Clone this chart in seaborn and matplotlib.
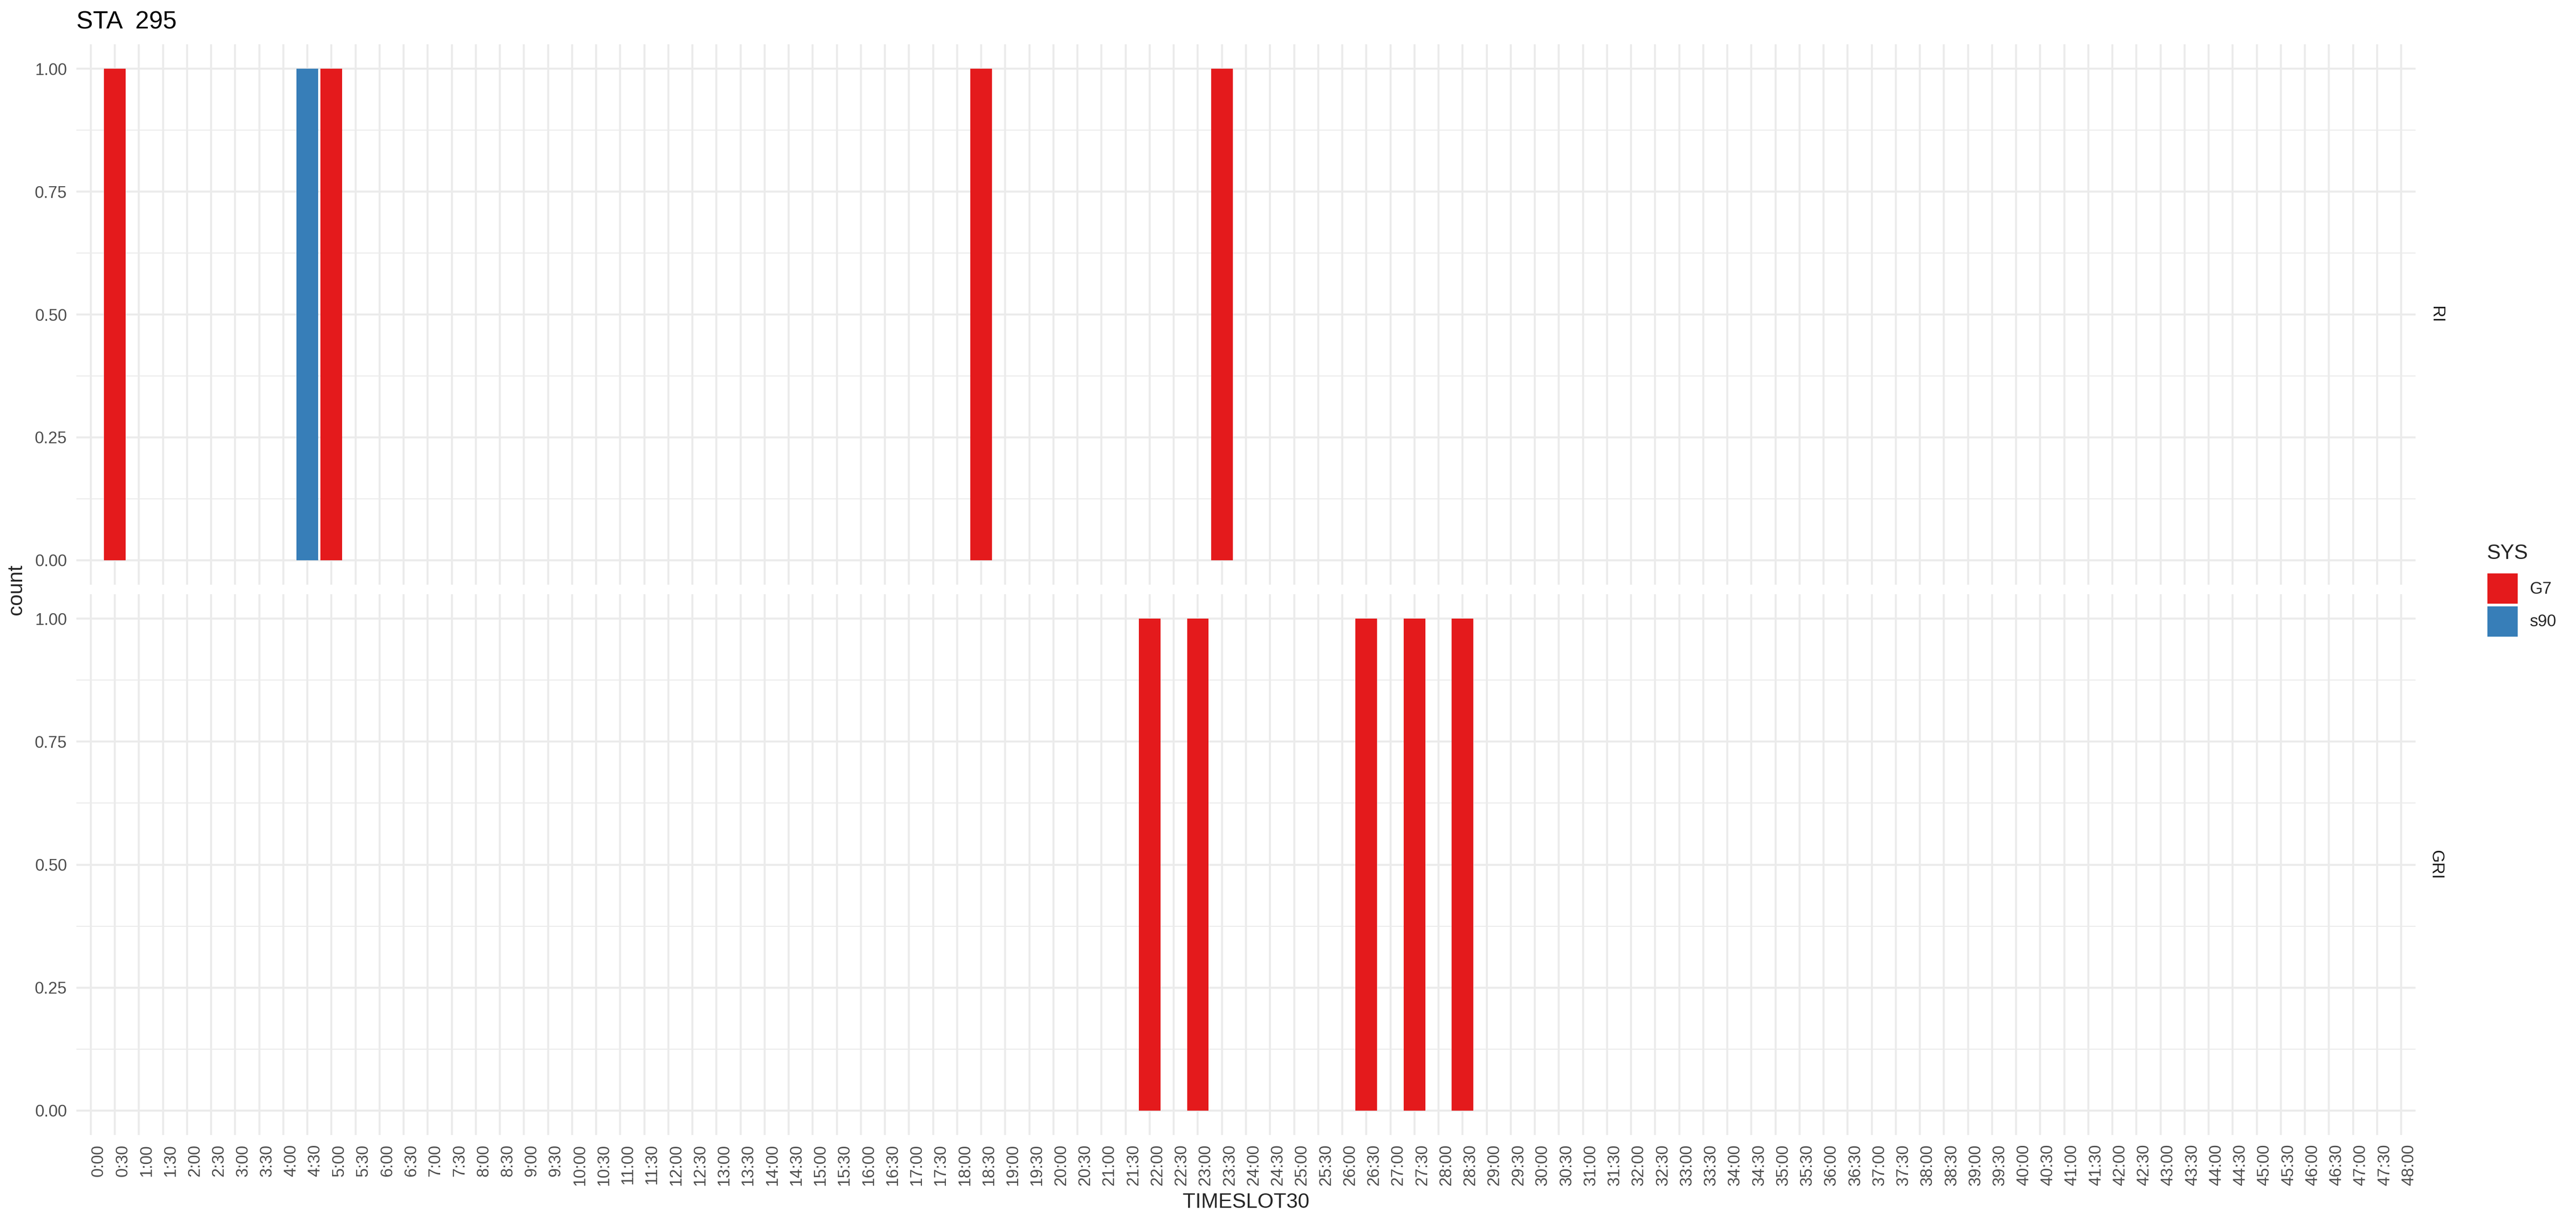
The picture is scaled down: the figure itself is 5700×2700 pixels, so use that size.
import pandas as pd
import matplotlib
matplotlib.use("Agg")
import matplotlib.pyplot as plt
import seaborn as sns

# half-hour slots shown on the x axis
slots = [f"{i // 2}:{'30' if i % 2 else '00'}" for i in range(97)]

# one row per record
ri_slot = ["0:30", "4:30", "5:00", "18:30", "23:30"]
ri_sys = ["G7", "s90", "G7", "G7", "G7"]
gri_slot = ["22:00", "23:00", "26:30", "27:30", "28:30"]
gri_sys = ["G7", "G7", "G7", "G7", "G7"]

facets = ["RI", "GRI"]
sys_order = ["G7", "s90"]
sys_colors = {"G7": "#E41A1C", "s90": "#377EB8"}

df = pd.concat([
    pd.DataFrame({"TIMESLOT30": ri_slot, "SYS": ri_sys, "TYPE": "RI"}),
    pd.DataFrame({"TIMESLOT30": gri_slot, "SYS": gri_sys, "TYPE": "GRI"}),
], ignore_index=True)

sns.set_style("white")
plt.rcParams['font.family'] = ['Liberation Sans', 'DejaVu Sans']

W, H = 5700, 2700
fig = plt.figure(figsize=(W / 300, H / 300), dpi=300)

# panel boxes in pixels (left, top, right, bottom)
panels = [(169, 98, 5345, 1294), (169, 1315, 5345, 2512)]
grid_col = "#EBEBEB"
txt_col = "#4D4D4D"

handles, labels = None, None
for i, (facet, box) in enumerate(zip(facets, panels)):
    l, t, r, b = box
    ax = fig.add_axes([l / W, 1 - b / H, (r - l) / W, (b - t) / H])
    sub = df[df["TYPE"] == facet]
    sns.countplot(data=sub, x="TIMESLOT30", hue="SYS", order=slots,
                  hue_order=sys_order, palette=sys_colors, dodge=False,
                  width=0.9, linewidth=0, saturation=1, ax=ax,
                  legend=(i == 0))
    if i == 0:
        handles, labels = ax.get_legend_handles_labels()
        ax.get_legend().remove()
    ax.set_axisbelow(True)
    ax.set_xlim(-0.6, len(slots) - 1 + 0.6)
    ax.set_ylim(-0.05, 1.05)
    ax.set_yticks([0, 0.25, 0.5, 0.75, 1.0])
    ax.set_yticklabels(["0.00", "0.25", "0.50", "0.75", "1.00"])
    ax.set_yticks([0.125, 0.375, 0.625, 0.875], minor=True)
    ax.grid(True, which="major", color=grid_col, lw=1.07)
    ax.grid(True, which="minor", axis="y", color=grid_col, lw=0.53)
    for s in ax.spines.values():
        s.set_visible(False)
    ax.tick_params(which="both", length=0, pad=4.95, labelsize=8.8,
                   labelcolor=txt_col)
    ax.set_xlabel("")
    ax.set_ylabel("")
    if i == 0:
        ax.tick_params(axis="x", labelbottom=False)
    else:
        ax.set_xticks(range(len(slots)))
        ax.set_xticklabels(slots, rotation=90, ha="left")
    fig.text(5390 / W, 1 - (t + b) / 2 / H, facet, rotation=270,
             ha="center", va="center", fontsize=8.8, color="#1A1A1A")

fig.text(169 / W, 1 - 63 / H, "STA  295", fontsize=13.2, va="baseline",
         ha="left", color="black")
fig.text(36 / W, 1 - 1305 / H, "count", rotation=90, fontsize=11,
         ha="center", va="center")
fig.text(2757 / W, 1 - 2661 / H, "TIMESLOT30", fontsize=11,
         ha="center", va="center")

# legend: title as text, keys below
fig.text(5503 / W, 1 - 1237 / H, "SYS", fontsize=11, ha="left",
         va="baseline")
leg = fig.legend(handles, labels, loc="upper left",
                 bbox_to_anchor=(5504 / W, 1 - 1269 / H), frameon=False,
                 fontsize=8.8, handlelength=1.83, handleheight=2.43,
                 labelspacing=0.16, handletextpad=0.71,
                 borderpad=0, borderaxespad=0)

fig.savefig("out.png", dpi=300)
